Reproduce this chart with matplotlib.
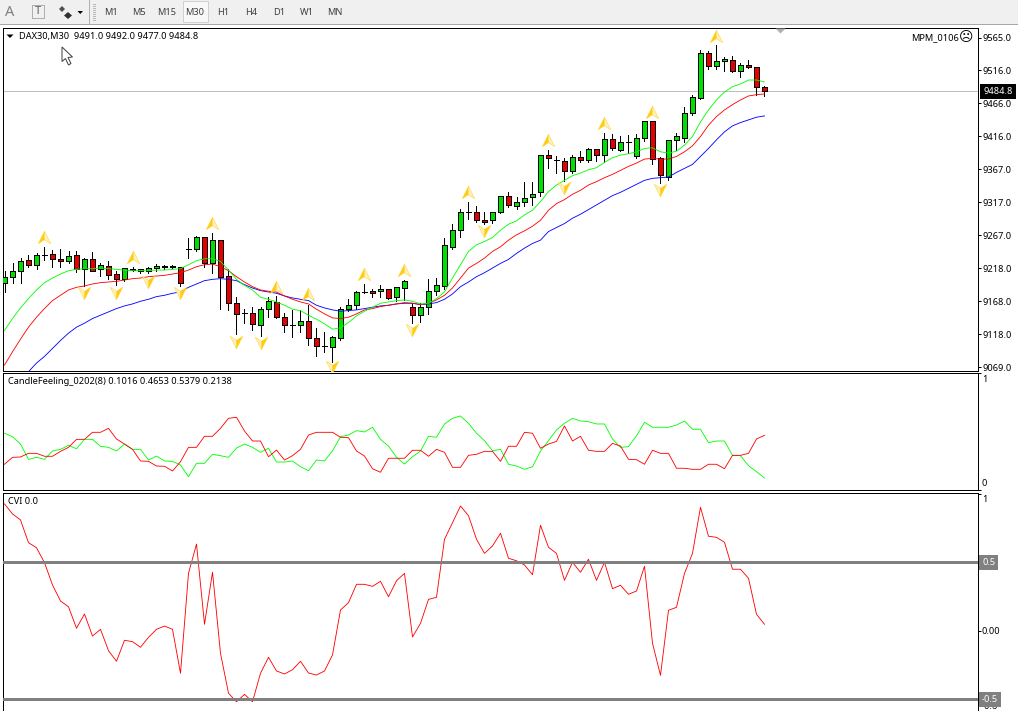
import matplotlib
matplotlib.use('Agg')
import matplotlib.pyplot as plt
from matplotlib.path import Path
from matplotlib.patches import Rectangle, Polygon

plt.rcParams['font.family'] = ['Noto Sans', 'DejaVu Sans']
FS = 6.65
plt.rcParams['font.size'] = FS

# candles, DAX30 M30
open_ = [9196, 9204, 9213, 9230, 9222, 9238, 9239, 9231, 9228, 9237, 9216, 9231, 9216, 9221, 9209, 9202,
         9215, 9213, 9213, 9218, 9219, 9219, 9219, 9247, 9247, 9264, 9225, 9260, 9206, 9166, 9150, 9150,
         9133, 9156, 9167, 9145, 9133, 9133, 9139, 9112, 9100, 9099, 9113, 9156, 9162, 9182, 9184, 9183,
         9186, 9175, 9188, 9159, 9148, 9160, 9184, 9191, 9250, 9275, 9303, 9303, 9291, 9290, 9303, 9326,
         9312, 9318, 9325, 9332, 9388, 9381, 9379, 9364, 9385, 9380, 9397, 9388, 9412, 9396, 9407, 9386,
         9413, 9439, 9383, 9355, 9410, 9414, 9451, 9474, 9541, 9522, 9529, 9531, 9514, 9523, 9520, 9491.0]
high = [9214, 9225, 9233, 9238, 9240, 9249, 9245, 9247, 9243, 9244, 9233, 9242, 9226, 9228, 9214, 9218,
        9219, 9216, 9219, 9224, 9223, 9223, 9219, 9263, 9266, 9265, 9270, 9260, 9217, 9175, 9157, 9159,
        9159, 9174, 9176, 9150, 9155, 9155, 9163, 9128, 9122, 9116, 9159, 9171, 9183, 9194, 9186, 9192,
        9187, 9189, 9200, 9165, 9165, 9201, 9203, 9263, 9284, 9307, 9317, 9312, 9303, 9303, 9327, 9332,
        9325, 9347, 9347, 9388, 9395, 9386, 9383, 9388, 9394, 9398, 9397, 9422, 9420, 9416, 9418, 9420,
        9439, 9439, 9385, 9410, 9421, 9460, 9478, 9546, 9544, 9554, 9535, 9537, 9527, 9531, 9520, 9492.0]
low = [9182, 9196, 9196, 9219, 9217, 9230, 9220, 9220, 9226, 9212, 9191, 9213, 9206, 9202, 9192, 9199,
       9213, 9211, 9210, 9213, 9217, 9218, 9191, 9233, 9243, 9219, 9211, 9157, 9155, 9119, 9136, 9125,
       9116, 9144, 9143, 9122, 9114, 9122, 9102, 9086, 9091, 9077, 9110, 9153, 9156, 9181, 9175, 9175,
       9172, 9169, 9170, 9135, 9137, 9149, 9177, 9187, 9246, 9264, 9292, 9288, 9284, 9286, 9301, 9310,
       9307, 9312, 9313, 9326, 9369, 9361, 9349, 9361, 9378, 9377, 9379, 9378, 9395, 9394, 9391, 9384,
       9409, 9375, 9346, 9350, 9396, 9407, 9448, 9473, 9518, 9518, 9515, 9513, 9506, 9519, 9478, 9477.0]
close = [9204, 9213, 9229, 9222, 9237, 9238, 9231, 9228, 9236, 9216, 9231, 9214, 9222, 9208, 9202, 9218,
         9217, 9216, 9218, 9221, 9221, 9221, 9195, 9247, 9264, 9225, 9260, 9205, 9166, 9149, 9150, 9134,
         9156, 9168, 9145, 9133, 9133, 9138, 9112, 9101, 9100, 9114, 9156, 9162, 9182, 9182, 9181, 9187,
         9173, 9189, 9198, 9148, 9160, 9184, 9192, 9252, 9275, 9303, 9303, 9291, 9288, 9303, 9327, 9313,
         9318, 9324, 9330, 9388, 9383, 9381, 9364, 9385, 9380, 9397, 9388, 9412, 9398, 9407, 9407, 9413,
         9439, 9382, 9358, 9410, 9416, 9451, 9476, 9541, 9522, 9529, 9532, 9514, 9523, 9520, 9491, 9484.8]

# moving averages
ma_green = [9124, 9142, 9158, 9172, 9185, 9196, 9203, 9209, 9214, 9216, 9217, 9217, 9218, 9217, 9216, 9215,
            9214, 9214, 9214, 9215, 9215, 9216, 9217, 9223, 9229, 9232, 9232, 9228, 9215, 9201, 9192, 9185,
            9174, 9171, 9167, 9162, 9156, 9154, 9147, 9141, 9134, 9126, 9128, 9136, 9146, 9153, 9159, 9165,
            9167, 9169, 9170, 9168, 9164, 9165, 9172, 9182, 9203, 9223, 9243, 9253, 9258, 9264, 9275, 9284,
            9289, 9298, 9305, 9318, 9333, 9343, 9350, 9357, 9361, 9366, 9369, 9377, 9384, 9388, 9390, 9393,
            9398, 9399, 9393, 9391, 9394, 9403, 9416, 9438, 9456, 9471, 9483, 9491, 9495, 9501, 9501, 9498]
ma_red = [9072, 9092, 9111, 9129, 9144, 9157, 9169, 9177, 9185, 9189, 9191, 9194, 9196, 9197, 9198, 9200,
          9202, 9203, 9205, 9206, 9207, 9209, 9211, 9215, 9220, 9223, 9224, 9220, 9214, 9205, 9197, 9190,
          9185, 9183, 9182, 9176, 9171, 9167, 9164, 9156, 9149, 9143, 9142, 9144, 9149, 9155, 9157, 9160,
          9162, 9164, 9166, 9165, 9163, 9165, 9170, 9177, 9188, 9203, 9218, 9225, 9233, 9243, 9250, 9260,
          9268, 9274, 9281, 9290, 9305, 9315, 9321, 9329, 9335, 9343, 9348, 9354, 9359, 9365, 9371, 9376,
          9382, 9383, 9382, 9382, 9386, 9393, 9402, 9416, 9433, 9446, 9456, 9464, 9471, 9477, 9479, 9480]
ma_blue = [9025, 9037, 9049, 9062, 9075, 9085, 9097, 9109, 9120, 9129, 9135, 9142, 9147, 9152, 9157, 9161,
           9164, 9168, 9171, 9175, 9177, 9180, 9182, 9189, 9194, 9199, 9201, 9202, 9201, 9199, 9193, 9188,
           9184, 9182, 9180, 9176, 9173, 9171, 9169, 9162, 9158, 9155, 9153, 9154, 9155, 9157, 9159, 9161,
           9162, 9164, 9165, 9165, 9163, 9164, 9166, 9171, 9179, 9190, 9197, 9205, 9211, 9218, 9225, 9231,
           9240, 9248, 9255, 9260, 9273, 9279, 9285, 9293, 9299, 9306, 9313, 9320, 9327, 9332, 9338, 9344,
           9350, 9353, 9354, 9355, 9362, 9368, 9374, 9386, 9398, 9411, 9423, 9432, 9437, 9441, 9445, 9447]

# fractal style arrows: bar index, price
up_i = [5, 16, 26, 34, 38, 45, 50, 58, 68, 75, 81, 89]
up_p = [9265, 9235, 9286, 9190, 9179, 9209, 9215, 9332, 9410, 9437, 9453, 9568]
dn_i = [10, 14, 18, 22, 29, 32, 41, 51, 60, 70, 82]
dn_p = [9180, 9181, 9197, 9180, 9107, 9105, 9069, 9125, 9274, 9338, 9335]

price_ticks = [9565, 9516, 9466, 9416, 9367, 9317, 9267, 9218, 9168, 9118, 9069]
last_price = 9484.8

# CandleFeeling_0202(8)
cf_green = [.483, .454, .391, .261, .278, .261, .332, .346, .380, .351, .431, .431, .372, .363, .332, .391,
            .346, .346, .255, .289, .247, .244, .213, .113, .227, .227, .304, .292, .278, .357, .391, .363,
            .321, .355, .238, .238, .247, .198, .164, .255, .247, .332, .454, .468, .505, .494, .534, .431,
            .374, .278, .221, .283, .332, .457, .449, .562, .610, .630, .568, .483, .420, .334, .346, .219,
            .204, .176, .198, .332, .420, .511, .568, .610, .587, .581, .562, .562, .434, .363, .369, .462,
            .576, .534, .534, .534, .553, .587, .517, .517, .403, .417, .417, .295, .292, .207, .156, .1016]
cf_red = [.219, .278, .281, .312, .312, .287, .287, .329, .363, .431, .431, .491, .491, .525, .434, .391,
          .346, .247, .244, .204, .202, .162, .241, .363, .363, .457, .457, .525, .610, .619, .502, .417,
          .417, .283, .340, .255, .292, .346, .468, .491, .491, .491, .449, .445, .332, .289, .181, .151,
          .270, .270, .270, .338, .338, .287, .346, .321, .193, .193, .295, .304, .329, .329, .244, .372,
          .372, .491, .483, .355, .391, .414, .545, .417, .457, .338, .329, .329, .397, .374, .261, .258,
          .219, .338, .312, .312, .185, .185, .176, .176, .219, .219, .181, .295, .295, .312, .434, .4653]

# CVI
cvi = [.927, .854, .810, .644, .607, .498, .335, .218, .176, .019, .123, -.038, .011, -.145, -.222, -.069,
       -.079, -.120, -.047, .011, .035, .011, -.310, .420, .634, .048, .428, -.164, -.456, -.518, -.464, -.518,
       -.310, -.193, -.293, -.315, -.284, -.222, -.308, -.323, -.293, -.176, .152, .206, .340, .340, .325, .362,
       .249, .366, .420, -.045, .055, .230, .245, .669, .790, .912, .841, .669, .566, .620, .713, .530,
       .512, .481, .410, .771, .610, .566, .369, .501, .428, .523, .369, .501, .308, .333, .267, .291,
       .472, -.091, -.325, .150, .172, .420, .566, .903, .691, .683, .647, .450, .450, .384, .121, .048]

timeframes = ['M1', 'M5', 'M15', 'M30', 'H1', 'H4', 'D1', 'W1', 'MN']

W, H = 1018, 711
PX = 0.72  # one screen pixel in points at dpi 100
LW = 0.62

fig = plt.figure(figsize=(W / 100, H / 100), dpi=100, facecolor='white')


def pane(top, bottom):
    ax = fig.add_axes([3.3 / W, 1 - bottom / H, 974.4 / W, (bottom - top) / H])
    ax.set_xlim(-0.15, 121.65)
    ax.set_xticks([])
    ax.yaxis.tick_right()
    ax.tick_params(axis='y', length=3 * PX, width=PX, pad=2 * PX, labelsize=FS)
    for s in ax.spines.values():
        s.set_linewidth(PX)
    return ax


def side_label(ax, v, text):
    ax.text(1.0041, v, text, transform=ax.get_yaxis_transform(), va='center', ha='left',
            fontsize=FS, clip_on=False)


xs = list(range(len(close)))

# main pane
ax1 = pane(28, 370.5)
ax1.set_ylim(9063.8, 9579.3)
ax1.axhline(last_price, color='#c0c0c0', lw=PX, zorder=1)
ax1.vlines(xs, low, high, color='black', lw=PX, antialiased=False, zorder=2)
bottoms = [min(o, c) for o, c in zip(open_, close)]
heights = [abs(o - c) for o, c in zip(open_, close)]
colors = ['#00e000' if c >= o else '#e60000' for o, c in zip(open_, close)]
ax1.bar(xs, heights, bottom=bottoms, width=0.6, color=colors, edgecolor='black',
        linewidth=PX, antialiased=False, zorder=3)
ax1.plot(xs, ma_blue, color='#0000ff', lw=LW, zorder=4)
ax1.plot(xs, ma_red, color='#ff0000', lw=LW, zorder=4)
ax1.plot(xs, ma_green, color='#00ff00', lw=LW, zorder=4)

up_left = Path([(0, 1), (-1, -1), (0, -0.35), (0, 1)], closed=True)
up_right = Path([(0, 1), (1, -1), (0, -0.35), (0, 1)], closed=True)
dn_left = Path([(0, -1), (-1, 1), (0, 0.35), (0, -1)], closed=True)
dn_right = Path([(0, -1), (1, 1), (0, 0.35), (0, -1)], closed=True)
for i, p, m_l, m_r, c_l, c_r in [(up_i, up_p, up_left, up_right, '#ffcc11', '#fff2c0'),
                                 (dn_i, dn_p, dn_left, dn_right, '#fff2c0', '#ffcc11')]:
    ax1.plot(i, p, ls='none', marker=m_l, ms=9, mfc=c_l, mec='#ffd633', mew=0.4, zorder=5)
    ax1.plot(i, p, ls='none', marker=m_r, ms=9, mfc=c_r, mec='#ffd633', mew=0.4, zorder=5)

ax1.set_yticks(price_ticks)
ax1.set_yticklabels(['%.1f' % t for t in price_ticks])
ax1.text(1.0059, last_price - 1.5, '%.1f' % last_price, transform=ax1.get_yaxis_transform(), color='white',
         va='center', ha='left', fontsize=FS, clip_on=False, zorder=6,
         bbox=dict(facecolor='black', edgecolor='none', boxstyle='square,pad=0.32'))

# CandleFeeling pane
ax2 = pane(372.5, 490)
ax2.set_ylim(0, 1)
ax2.plot(xs, cf_green, color='#00ff00', lw=LW)
ax2.plot(xs, cf_red, color='#ff0000', lw=LW)
ax2.set_yticks([0, 1])
ax2.set_yticklabels([])
side_label(ax2, 0.942, '1')
side_label(ax2, 0.057, '0')

# CVI pane
ax3 = pane(492.5, 711)
ax3.set_ylim(-0.5855, 1.0106)
ax3.plot(xs, cvi, color='#ff0000', lw=LW, zorder=2)
for lev in [0.5, -0.5]:
    ax3.axhline(lev, color='#808080', lw=3 * PX, zorder=3)
ax3.set_yticks([1, 0])
ax3.set_yticklabels([])
side_label(ax3, 0.959, '1')
side_label(ax3, -0.005, '0.00')
side_label(ax3, -0.552, '-0.6')
for lev, lab in [(0.5, '0.5'), (-0.5, '-0.5')]:
    ax3.text(1.0045, lev, lab, transform=ax3.get_yaxis_transform(), color='white', va='center', ha='left',
             fontsize=FS, clip_on=False, zorder=6,
             bbox=dict(facecolor='#808080', edgecolor='none', boxstyle='square,pad=0.3'))

# toolbar, captions and cursor, in screen pixels
ui = fig.add_axes([0, 0, 1, 1], zorder=10)
ui.set_xlim(0, W)
ui.set_ylim(H, 0)
ui.axis('off')
ui.patch.set_alpha(0)

ui.add_patch(Rectangle((0, 0), W, 24, fc='#f0f0f0', ec='none'))
ui.add_patch(Rectangle((0, 24), W, 1.2, fc='#a8a8a8', ec='none'))
ui.add_patch(Rectangle((183.5, 0.5), 25, 21.5, fc='#f8f8f8', ec='#d0d0d0', lw=PX))
ui.add_patch(Rectangle((89, 0), 1, 24, fc='#b0b0b0', ec='none'))
for y in range(4, 21, 2):
    ui.add_patch(Rectangle((93, y), 3, 1, fc='#b8b8b8', ec='none'))

ui.text(10, 12.5, 'A', fontsize=10.5, fontweight='bold', color='#808080', ha='center', va='center')
ui.add_patch(Rectangle((32, 5), 12, 13, fc='#f0f0f0', ec='#707070', lw=PX, ls=(0, (1, 1))))
ui.text(38, 12, 'T', fontsize=8, fontweight='bold', color='#606060', ha='center', va='center')
ui.add_patch(Polygon([(62, 6), (65, 9), (62, 12), (59, 9)], fc='#505050', ec='none'))
ui.add_patch(Polygon([(68, 12), (72, 15.5), (68, 19), (64, 15.5)], fc='#303030', ec='none'))
ui.add_patch(Polygon([(77.5, 11), (83, 11), (80.25, 14)], fc='black', ec='none'))
for k, tf in enumerate(timeframes):
    ui.text(111 + 28 * k, 12.5, tf, fontsize=FS, color='#404040', ha='center', va='center')

ui.add_patch(Polygon([(6.5, 34.5), (13.5, 34.5), (10, 38)], fc='black', ec='none'))
ui.text(19, 36.5, 'DAX30,M30  9491.0 9492.0 9477.0 9484.8', fontsize=FS, va='center', ha='left')
ui.text(959, 37.5, 'MPM_0106', fontsize=FS, va='center', ha='right')
ui.text(966.5, 37.5, '\u2639', fontsize=10, va='center', ha='center', family='DejaVu Sans')
ui.add_patch(Polygon([(775.5, 28.5), (785.5, 28.5), (780.5, 33.5)], fc='#b0b0b0', ec='none'))
ui.text(8, 381, 'CandleFeeling_0202(8) 0.1016 0.4653 0.5379 0.2138', fontsize=FS, va='center', ha='left')
ui.text(8, 501, 'CVI 0.0', fontsize=FS, va='center', ha='left')

ui.add_patch(Polygon([(62, 47), (62, 61.5), (65.5, 58.5), (68.5, 65), (71, 63.5), (68, 57.5), (72.5, 57)],
                     fc='white', ec='#404040', lw=PX))

fig.savefig('out.png', dpi=100)
